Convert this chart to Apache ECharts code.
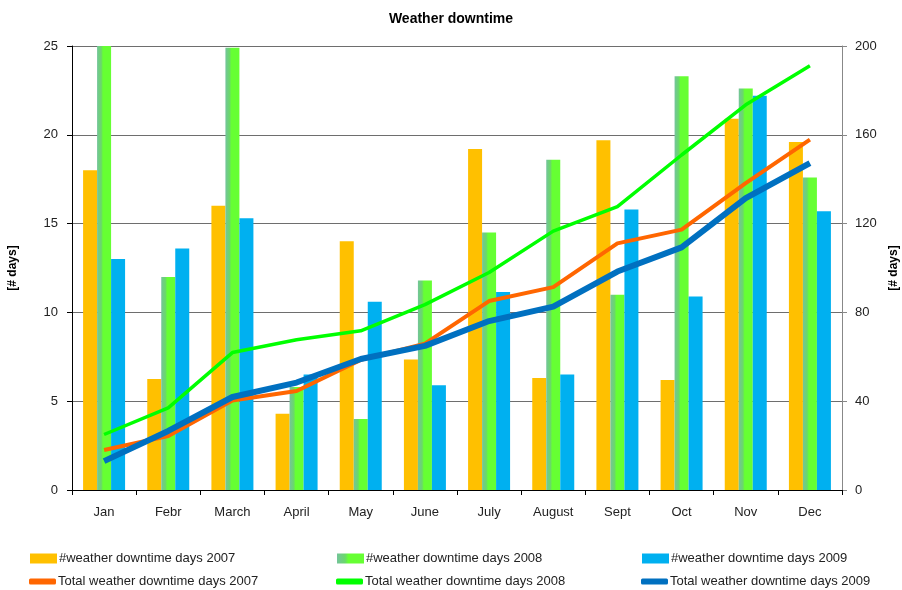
<!DOCTYPE html>
<html>
<head>
<meta charset="utf-8">
<script src="https://cdn.jsdelivr.net/npm/echarts@6/dist/echarts.min.js"></script>
<style>
  html, body { margin: 0; padding: 0; background: #fff; }
  #chart { width: 902px; height: 590px; }
</style>
</head>
<body>
<div id="chart"></div>
<script>
// Monthly weather downtime (days) and running totals per year
const months = ['Jan', 'Febr', 'March', 'April', 'May', 'June', 'July', 'August', 'Sept', 'Oct', 'Nov', 'Dec'];

const days2007 = [18, 6.25, 16, 4.3, 14, 7.35, 19.2, 6.3, 19.7, 6.2, 20.9, 19.6];
const days2008 = [25, 12, 24.9, 5.8, 4, 11.8, 14.5, 18.6, 11, 23.3, 22.6, 17.6];
const days2009 = [13, 13.6, 15.3, 6.5, 10.6, 5.9, 11.15, 6.5, 15.8, 10.9, 22.2, 15.7];

const total2007 = [18, 24.3, 40.3, 44.6, 58.6, 65.9, 85.1, 91.4, 111.1, 117.3, 138.2, 157.8];
const total2008 = [25, 37, 61.9, 67.7, 71.7, 83.5, 98, 116.6, 127.6, 150.9, 173.5, 191.1];
const total2009 = [13, 26.6, 41.9, 48.4, 59, 64.9, 76.1, 82.6, 98.4, 109.3, 131.5, 147.2];

const leftTicks = { min: 0, max: 25, interval: 5 };
const rightTicks = { min: 0, max: 200, interval: 40 };

const names = [
  '#weather downtime days 2007',
  '#weather downtime days 2008',
  '#weather downtime days 2009',
  'Total weather downtime days 2007',
  'Total weather downtime days 2008',
  'Total weather downtime days 2009'
];

const font = 'Liberation Sans, Arial, sans-serif';

const green2008 = new echarts.graphic.LinearGradient(0, 0, 1, 0, [
  { offset: 0, color: '#74c49a' },
  { offset: 0.3, color: '#6ad86a' },
  { offset: 0.42, color: '#66ff33' },
  { offset: 1, color: '#66ff33' }
]);

const chart = echarts.init(document.getElementById('chart'), null, { renderer: 'canvas' });

function legendAt(name, left, top, icon) {
  return {
    data: [{ name: name, icon: icon }],
    left: left, top: top,
    itemWidth: 27, itemHeight: icon === 'rect' ? 10 : 6,
    itemGap: 2,
    textStyle: { fontFamily: font, fontSize: 13, color: '#222', padding: [0, 0, 0, -3] },
    padding: 0,
    selectedMode: false
  };
}

chart.setOption({
  animation: false,
  backgroundColor: '#ffffff',
  title: {
    text: 'Weather downtime',
    left: 'center', top: 7,
    textStyle: { fontFamily: font, fontSize: 14, fontWeight: 'bold', color: '#000' }
  },
  legend: [
    legendAt(names[0], 30, 552, 'rect'),
    legendAt(names[1], 337, 552, 'rect'),
    legendAt(names[2], 642, 552, 'rect'),
    legendAt(names[3], 29, 575, 'roundRect'),
    legendAt(names[4], 336, 575, 'roundRect'),
    legendAt(names[5], 641, 575, 'roundRect')
  ],
  grid: { left: 72, right: 60, top: 46, bottom: 100, containLabel: false, outerBoundsMode: 'none' },
  xAxis: {
    type: 'category',
    data: months,
    boundaryGap: true,
    axisLine: { lineStyle: { color: '#000', width: 1 } },
    axisTick: { show: true, alignWithLabel: false, length: 5, lineStyle: { color: '#000' } },
    axisLabel: { fontFamily: font, fontSize: 13, color: '#222', margin: 16 }
  },
  yAxis: [
    {
      type: 'value',
      min: leftTicks.min, max: leftTicks.max, interval: leftTicks.interval,
      name: '[# days]',
      nameLocation: 'middle', nameRotate: 90, nameGap: 53,
      nameTextStyle: { fontFamily: font, fontSize: 12, fontWeight: 'bold', color: '#000' },
      axisLine: { show: true, lineStyle: { color: '#000', width: 1 } },
      axisTick: { show: true, length: 5, lineStyle: { color: '#000' } },
      axisLabel: { fontFamily: font, fontSize: 13, color: '#222', margin: 14 },
      splitLine: { show: true, lineStyle: { color: '#6e6e6e', width: 1 } }
    },
    {
      type: 'value',
      min: rightTicks.min, max: rightTicks.max, interval: rightTicks.interval,
      name: '[# days]',
      nameLocation: 'middle', nameRotate: 90, nameGap: 46,
      nameTextStyle: { fontFamily: font, fontSize: 12, fontWeight: 'bold', color: '#000' },
      axisLine: { show: true, lineStyle: { color: '#888', width: 1 } },
      axisTick: { show: true, length: 5, lineStyle: { color: '#888' } },
      axisLabel: { fontFamily: font, fontSize: 13, color: '#222', margin: 13 },
      splitLine: { show: false }
    }
  ],
  series: [
    {
      name: names[0], type: 'bar', data: days2007,
      barWidth: 14, barGap: '0%',
      itemStyle: { color: '#ffc000' }
    },
    {
      name: names[1], type: 'bar', data: days2008,
      barWidth: 14, barGap: '0%',
      itemStyle: { color: green2008 }
    },
    {
      name: names[2], type: 'bar', data: days2009,
      barWidth: 14, barGap: '0%',
      itemStyle: { color: '#00b0f0' }
    },
    {
      name: names[3], type: 'line', yAxisIndex: 1, data: total2007,
      symbol: 'none', z: 5,
      lineStyle: { color: '#ff6600', width: 4 },
      itemStyle: { color: '#ff6600' }
    },
    {
      name: names[4], type: 'line', yAxisIndex: 1, data: total2008,
      symbol: 'none', z: 5,
      lineStyle: { color: '#00ff00', width: 3.5 },
      itemStyle: { color: '#00ff00' }
    },
    {
      name: names[5], type: 'line', yAxisIndex: 1, data: total2009,
      symbol: 'none', z: 6,
      lineStyle: { color: '#0070c0', width: 6 },
      itemStyle: { color: '#0070c0' }
    }
  ]
});
</script>
</body>
</html>
